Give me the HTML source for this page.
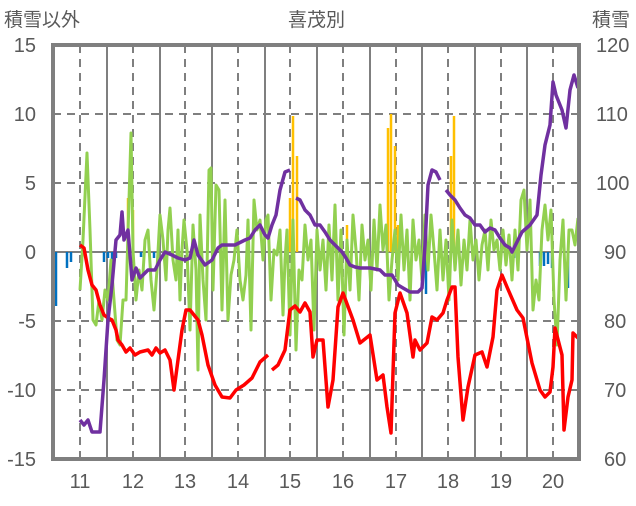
<!DOCTYPE html>
<html><head><meta charset="utf-8"><style>
body{margin:0;background:#fff;width:636px;height:501px;overflow:hidden}
text{font-family:"Liberation Sans","Noto Sans CJK JP",sans-serif;fill:#595959}
</style></head><body>
<svg width="636" height="501" viewBox="0 0 636 501" xmlns="http://www.w3.org/2000/svg">
<text x="4" y="26" font-size="19">積雪以外</text>
<text x="288" y="26" font-size="19">喜茂別</text>
<text x="592" y="26" font-size="19">積雪</text>
<g font-size="20" text-anchor="end">
<text x="36" y="52">15</text><text x="36" y="121">10</text><text x="36" y="190">5</text>
<text x="36" y="259">0</text><text x="36" y="328">-5</text><text x="36" y="397">-10</text><text x="36" y="466">-15</text>
</g>
<g font-size="20">
<text x="596" y="52">120</text><text x="596" y="121">110</text><text x="596" y="190">100</text>
<text x="604" y="259">90</text><text x="604" y="328">80</text><text x="604" y="397">70</text><text x="604" y="466">60</text>
</g>
<g font-size="20" text-anchor="middle">
<text x="80" y="488">11</text><text x="133" y="488">12</text><text x="185" y="488">13</text><text x="238" y="488">14</text>
<text x="290" y="488">15</text><text x="343" y="488">16</text><text x="396" y="488">17</text><text x="448" y="488">18</text>
<text x="501" y="488">19</text><text x="553" y="488">20</text>
</g>
<g stroke="#7f7f7f" stroke-width="2" stroke-dasharray="8,6">
<line x1="53" y1="114" x2="579" y2="114"/><line x1="53" y1="183" x2="579" y2="183"/>
<line x1="53" y1="321" x2="579" y2="321"/><line x1="53" y1="390" x2="579" y2="390"/>
<line x1="80" y1="45" x2="80" y2="459"/><line x1="133" y1="45" x2="133" y2="459"/><line x1="185" y1="45" x2="185" y2="459"/>
<line x1="238" y1="45" x2="238" y2="459"/><line x1="290" y1="45" x2="290" y2="459"/><line x1="343" y1="45" x2="343" y2="459"/>
<line x1="396" y1="45" x2="396" y2="459"/><line x1="448" y1="45" x2="448" y2="459"/><line x1="501" y1="45" x2="501" y2="459"/>
<line x1="553" y1="45" x2="553" y2="459"/>
</g>
<g stroke="#7f7f7f" stroke-width="2">
<line x1="107" y1="45" x2="107" y2="459"/><line x1="160" y1="45" x2="160" y2="459"/><line x1="212" y1="45" x2="212" y2="459"/>
<line x1="265" y1="45" x2="265" y2="459"/><line x1="317" y1="45" x2="317" y2="459"/><line x1="370" y1="45" x2="370" y2="459"/>
<line x1="422" y1="45" x2="422" y2="459"/><line x1="475" y1="45" x2="475" y2="459"/><line x1="527" y1="45" x2="527" y2="459"/>
<line x1="53" y1="252" x2="579" y2="252"/>
</g>
<g stroke="#0070c0" stroke-width="2.5">
<line x1="56" y1="252" x2="56" y2="306"/><line x1="67" y1="252" x2="67" y2="268"/><line x1="71" y1="252" x2="71" y2="262"/>
<line x1="104" y1="252" x2="104" y2="262"/><line x1="108" y1="252" x2="108" y2="258"/><line x1="112" y1="252" x2="112" y2="260"/><line x1="116" y1="252" x2="116" y2="258"/>
<line x1="141" y1="252" x2="141" y2="257"/><line x1="154" y1="252" x2="154" y2="258"/><line x1="426" y1="252" x2="426" y2="294"/>
<line x1="514" y1="252" x2="514" y2="258"/><line x1="540" y1="252" x2="540" y2="266"/><line x1="544" y1="252" x2="544" y2="266"/><line x1="548" y1="252" x2="548" y2="264"/><line x1="552" y1="252" x2="552" y2="268"/><line x1="568" y1="252" x2="568" y2="288"/>
</g>
<g stroke="#ffc000" stroke-width="2.5">
<line x1="128" y1="252" x2="128" y2="198"/><line x1="133" y1="252" x2="133" y2="210"/>
<line x1="290" y1="252" x2="290" y2="198"/><line x1="293" y1="252" x2="293" y2="116"/><line x1="297" y1="252" x2="297" y2="156"/>
<line x1="388" y1="252" x2="388" y2="128"/><line x1="391" y1="252" x2="391" y2="114"/><line x1="395" y1="252" x2="395" y2="146"/><line x1="398" y1="252" x2="398" y2="225"/>
<line x1="451" y1="252" x2="451" y2="156"/><line x1="454" y1="252" x2="454" y2="116"/><line x1="347" y1="252" x2="347" y2="225"/>
</g>
<polyline fill="none" stroke="#92d050" stroke-width="3" stroke-linejoin="round" points="
80,290 83,240 87,153 90,230 93,320 96,325 99,300 102,320 105,290 108,300 111,260 114,300 117,340 120,345 123,300 126,300 129,200 131,133 133,250 136,300 139,270 142,290 145,240 148,230 151,280 154,310 157,270 160,215 163,240 166,280 168,230 170,208 173,260 176,280 178,230 180,300 182,250 184,220 187,250 190,330 193,225 196,270 198,370 200,215 203,280 206,320 209,170 211,168 213,290 216,185 219,190 222,310 225,200 228,320 231,275 234,260 237,230 240,280 243,300 246,275 248,220 251,330 254,200 257,230 260,220 263,260 266,220 268,215 271,300 274,250 277,255 280,230 283,315 285,260 287,230 290,335 293,220 296,350 299,270 302,280 305,225 308,260 311,240 314,330 317,230 320,270 323,240 326,290 329,225 332,280 335,205 338,300 341,230 344,335 347,240 350,290 353,215 356,250 359,300 362,225 365,260 368,240 371,290 374,220 377,270 380,205 383,250 386,225 389,300 392,260 395,230 398,280 401,215 404,270 407,230 410,300 413,220 416,260 419,240 422,280 425,215 428,270 431,215 434,250 437,290 440,230 443,280 446,240 449,300 452,220 455,270 458,230 461,285 464,240 467,270 470,220 473,260 476,240 479,280 482,245 485,230 488,270 491,220 494,250 497,240 500,270 503,230 506,265 509,235 512,280 515,230 518,270 521,200 524,190 527,250 530,200 533,310 536,280 539,300 542,230 545,205 548,240 551,210 554,300 557,345 560,260 563,220 566,300 569,230 572,230 575,245 578,218"/>
<polyline fill="none" stroke="#ff0000" stroke-width="3.5" stroke-linejoin="round" points="
80,245 84,248 88,270 92,285 96,290 100,305 104,315 108,318 112,320 116,330 118,340 122,345 126,352 130,348 135,355 140,352 148,350 152,355 156,348 160,353 165,350 170,360 174,390 178,360 182,330 186,310 190,310 194,315 198,320 202,335 208,365 215,385 222,397 230,398 236,390 244,385 252,378 260,362 268,355"/>
<polyline fill="none" stroke="#ff0000" stroke-width="3.5" stroke-linejoin="round" points="
272,370 278,365 285,350 290,310 295,306 300,312 305,303 310,312 313,357 317,340 323,340 328,407 333,380 338,307 343,293 353,320 360,343 370,335 377,380 383,375 387,407 391,433 395,313 400,293 407,313 413,357 415,340 420,350 427,343 432,317 437,320 443,313 447,300 452,287 455,287 458,357 463,420 468,387 475,355 482,352 487,367 493,337 497,290 502,275 507,287 517,310 523,318 532,363 540,390 545,397 550,392 553,367 555,328 562,355 564,430 568,397 572,380 573,333 578,338"/>
<polyline fill="none" stroke="#7030a0" stroke-width="3.5" stroke-linejoin="round" points="
80,420 84,425 88,420 92,432 100,432 104,380 108,320 112,285 116,240 120,235 122,212 124,240 128,230 132,280 136,268 140,278 148,270 155,270 160,260 165,252 172,255 178,258 185,260 190,258 194,240 198,255 205,265 212,260 218,248 222,245 235,245 245,240 250,238 255,230 260,225 265,235 268,238 272,225 276,215 280,190 285,172 290,170"/>
<polyline fill="none" stroke="#7030a0" stroke-width="3.5" stroke-linejoin="round" points="
296,198 300,200 305,210 310,215 315,225 320,225 325,232 330,240 335,245 342,252 346,258 350,265 355,267 360,268 370,268 380,270 385,275 392,275 398,285 403,288 410,292 418,292 422,288 425,245 428,185 432,170 436,172 440,180"/>
<polyline fill="none" stroke="#7030a0" stroke-width="3.5" stroke-linejoin="round" points="
446,190 450,195 455,200 460,208 465,215 470,218 475,225 480,225 485,232 490,228 495,230 500,238 505,245 510,248 512,252 518,240 522,232 530,225 537,215 541,175 545,145 550,125 553,82 556,95 562,110 566,128 570,90 574,75 578,88"/>
<rect x="53" y="45" width="526" height="414" fill="none" stroke="#7f7f7f" stroke-width="4"/>
</svg>
</body></html>
